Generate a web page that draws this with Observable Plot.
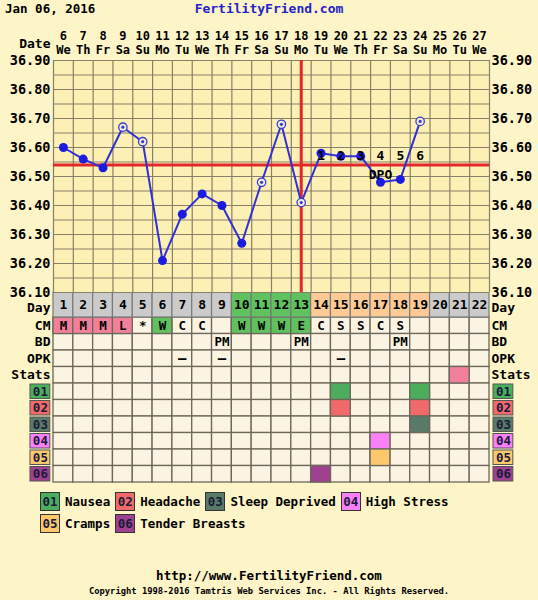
<!DOCTYPE html>
<html><head><meta charset="utf-8">
<script src="https://cdn.jsdelivr.net/npm/d3@7"></script>
<script src="https://cdn.jsdelivr.net/npm/@observablehq/plot@0.6"></script>
<style>
body{margin:0;background:#fdf4c8;}
#chart{position:relative;width:538px;height:600px;background:#fdf4c8;font-family:"DejaVu Sans Mono",monospace;font-weight:bold;overflow:hidden;color:#000}
#chart svg{overflow:visible}
</style></head><body><div id="chart"></div>
<script>
// ---------- data ----------
const headerDate = "Jan 06, 2016";
const siteName = "FertilityFriend.com";
const footerUrl = "http://www.FertilityFriend.com";
const copyright = "Copyright 1998-2016 Tamtris Web Services Inc. - All Rights Reserved.";

const cycleDays = [1,2,3,4,5,6,7,8,9,10,11,12,13,14,15,16,17,18,19,20,21,22];
const dateNumbers = [6,7,8,9,10,11,12,13,14,15,16,17,18,19,20,21,22,23,24,25,26,27];
const weekdays = ["We","Th","Fr","Sa","Su","Mo","Tu","We","Th","Fr","Sa","Su","Mo","Tu","We","Th","Fr","Sa","Su","Mo","Tu","We"];
const yTicks = [36.10,36.20,36.30,36.40,36.50,36.60,36.70,36.80,36.90];

const tempDays = [1,2,3,4,5,6,7,8,9,10,11,12,13,14,15,16,17,18,19];
const temps = [36.60,36.56,36.53,36.67,36.62,36.21,36.37,36.44,36.40,36.27,36.48,36.68,36.41,36.58,36.57,36.57,36.48,36.49,36.69];
const openMarker = [false,false,false,true,true,false,false,false,false,false,true,true,true,false,false,false,false,false,true];
const coverline = 36.54;
const ovulationDay = 13;
const dpoDays = [14,15,16,17,18,19];
const dpoLabels = ["1","2","3","4","5","6"];
const dpoTitleDay = 17;

const phases = ["pre","pre","pre","pre","pre","pre","pre","pre","pre","fertile","fertile","fertile","fertile","luteal","luteal","luteal","luteal","luteal","luteal","pre","pre","pre"];
const cmValues = ["M","M","M","L","*","W","C","C","","W","W","W","E","C","S","S","C","S","","","",""];
const bdValues = ["","","","","","","","","PM","","","","PM","","","","","PM","","","",""];
const opkValues = ["","","","","","","–","","–","","","","","","–","","","","","","",""];
const statsDays = [21];

const symptomCodes = ["01","02","03","04","05","06"];
const symptomNames = ["Nausea","Headache","Sleep Deprived","High Stress","Cramps","Tender Breasts"];
const symptomColors = ["#4cae5c","#f06a6a","#5a7a68","#fa80fa","#fdc86c","#9d4190"];
const symptomDays = [[15,19],[15,19],[19],[17],[17],[14]];

const rowNames = ["CM","BD","OPK","Stats","01","02","03","04","05","06"];

// ---------- styles ----------
const phaseColors = {pre:"#cbcbcb", fertile:"#5fc25f", luteal:"#fdca96"};
const cmColors = {M:"#f3809a", L:"#f3809a", W:"#5fc25f", E:"#5fc25f"};
const statsColor = "#f3809a";
const cellFill = "#fcf4e3", cellStroke = "#6d675a";
const gridColor = "#877f69";
const blue = "#3030d4", red = "#e3262a";

const chart = document.getElementById("chart");
function place(el, top, z) {
  el.style.position = "absolute"; el.style.left = "0px"; el.style.top = top + "px";
  if (z) el.style.zIndex = z;
  chart.appendChild(el);
}
const baseStyle = {background:"transparent", overflow:"visible", fontFamily:'"DejaVu Sans Mono", monospace', fontWeight:"bold", fontSize:"12.5px", color:"#000"};
const plotLeft = 53, plotRight = 49, W = 538;
const bw = (W - plotLeft - plotRight) / cycleDays.length;

// ---------- header ----------
const hd = document.createElement("div");
hd.textContent = headerDate;
hd.style.cssText = "position:absolute;left:5px;top:0px;font-size:12.5px;line-height:18px;";
chart.appendChild(hd);
const st = document.createElement("div");
st.textContent = siteName;
st.style.cssText = "position:absolute;left:0;top:0;width:538px;text-align:center;font-size:13px;line-height:18px;color:#2424c8;";
chart.appendChild(st);

// ---------- temperature plot ----------
const tempData = tempDays.map((d, i) => ({day: d, temp: temps[i], open: openMarker[i]}));
const boundaries = cycleDays.map(d => d - 0.5).concat([cycleDays[cycleDays.length - 1] + 0.5]);
const gridTemps = d3.ticks(yTicks[0], yTicks[yTicks.length - 1], 16);
const dpoData = dpoDays.map((d, i) => ({day: d, label: dpoLabels[i]}));

const tempPlot = Plot.plot({
  width: W, height: 266, marginTop: 34, marginBottom: 0, marginLeft: plotLeft, marginRight: plotRight,
  x: {type: "linear", domain: [0.5, cycleDays.length + 0.5], axis: null},
  y: {domain: [yTicks[0], yTicks[yTicks.length - 1]], axis: null},
  style: baseStyle,
  marks: [
    Plot.frame({fill: "#fdf0b4"}),
    Plot.ruleX(boundaries, {stroke: gridColor, strokeWidth: 1.2}),
    Plot.ruleY(gridTemps, {stroke: gridColor, strokeWidth: 1.2}),
    Plot.ruleY([coverline], {stroke: red, strokeWidth: 3}),
    Plot.ruleX([ovulationDay], {stroke: red, strokeWidth: 3}),
    Plot.line(tempData, {x: "day", y: "temp", stroke: blue, strokeWidth: 2}),
    Plot.dot(tempData.filter(d => !d.open), {x: "day", y: "temp", r: 4.5, fill: "#1c1ce0"}),
    Plot.dot(tempData.filter(d => d.open), {x: "day", y: "temp", r: 4.2, fill: "#f1eedd", stroke: "#3c3cd0", strokeWidth: 1.3}),
    Plot.dot(tempData.filter(d => d.open), {x: "day", y: "temp", r: 1.6, fill: "#3c3cd0"}),
    Plot.text(dpoData, {x: "day", y: () => coverline, text: "label", dy: -9, fontSize: 13}),
    Plot.text(["DPO"], {x: () => dpoTitleDay, y: () => coverline, text: d => d, dy: 10, fontSize: 13}),
    Plot.text(yTicks, {y: d => d, text: d => d.toFixed(2), frameAnchor: "left", textAnchor: "end", dx: -3, fontSize: 13.5}),
    Plot.text(yTicks, {y: d => d, text: d => d.toFixed(2), frameAnchor: "right", textAnchor: "start", dx: 2, fontSize: 13.5}),
    Plot.text(cycleDays, {x: d => d, text: (d, i) => String(dateNumbers[i]), frameAnchor: "top", lineAnchor: "middle", dy: -24, fontSize: 12}),
    Plot.text(cycleDays, {x: d => d, text: (d, i) => weekdays[i], frameAnchor: "top", lineAnchor: "middle", dy: -10, fontSize: 12}),
    Plot.text(["Date"], {text: d => d, frameAnchor: "top-left", lineAnchor: "middle", textAnchor: "end", dx: -3, dy: -16.5, fontSize: 13})
  ]
});
place(tempPlot, 26, 3);

// ---------- day row ----------
const xBand = {type: "band", domain: ["L", ...cycleDays, "R"], padding: 0, round: false, axis: null};
const dayData = cycleDays.map((d, i) => ({day: d, phase: phases[i]}));
const dayPlot = Plot.plot({
  width: W, height: 25, marginTop: 0, marginBottom: 0, marginLeft: plotLeft - bw, marginRight: plotRight - bw,
  x: xBand,
  style: baseStyle,
  marks: [
    Plot.cell(dayData, {x: "day", fill: d => phaseColors[d.phase], stroke: "#7a7a7a", strokeWidth: 1.2}),
    Plot.text(dayData, {x: "day", text: d => String(d.day), fontSize: 13}),
    Plot.text(["Day"], {x: () => "L", text: d => d, textAnchor: "end", dx: bw / 2 - 3, dy: 2.5, fontSize: 13}),
    Plot.text(["Day"], {x: () => "R", text: d => d, textAnchor: "start", dx: -bw / 2 + 2, dy: 2.5, fontSize: 13})
  ]
});
place(dayPlot, 292, 2);

// ---------- rows table ----------
const gridCells = rowNames.flatMap(r => cycleDays.map(d => ({row: r, day: d})));
const cmData = cycleDays.map((d, i) => ({day: d, v: cmValues[i]}));
const bdData = cycleDays.map((d, i) => ({day: d, v: bdValues[i]})).filter(d => d.v);
const opkData = cycleDays.map((d, i) => ({day: d, v: opkValues[i]})).filter(d => d.v);
const symptomCells = symptomCodes.flatMap((c, i) => symptomDays[i].map(d => ({row: c, day: d, color: symptomColors[i]})));
const labelRows = rowNames.filter(r => !symptomCodes.includes(r));
const codeData = symptomCodes.map((c, i) => ({code: c, color: symptomColors[i]}));

const rowsPlot = Plot.plot({
  width: W, height: 165, marginTop: 0, marginBottom: 0, marginLeft: plotLeft - bw, marginRight: plotRight - bw,
  x: xBand,
  y: {type: "band", domain: rowNames, padding: 0, round: false, axis: null},
  style: baseStyle,
  marks: [
    Plot.cell(gridCells, {x: "day", y: "row", fill: cellFill, stroke: cellStroke, strokeWidth: 1.3}),
    Plot.cell(cmData.filter(d => cmColors[d.v]), {x: "day", y: () => "CM", fill: d => cmColors[d.v], stroke: cellStroke, strokeWidth: 1.3}),
    Plot.cell(statsDays, {x: d => d, y: () => "Stats", fill: statsColor, stroke: cellStroke, strokeWidth: 1.3}),
    Plot.cell(symptomCells, {x: "day", y: "row", fill: "color", stroke: cellStroke, strokeWidth: 1.3}),
    Plot.text(cmData.filter(d => d.v), {x: "day", y: () => "CM", text: "v", fontSize: 12.5}),
    Plot.text(bdData, {x: "day", y: () => "BD", text: "v", fontSize: 12.5}),
    Plot.text(opkData, {x: "day", y: () => "OPK", text: "v", fontSize: 14}),
    Plot.text(labelRows, {x: () => "L", y: d => d, text: d => d, textAnchor: "end", dx: bw / 2 - 3, fontSize: 13}),
    Plot.text(labelRows, {x: () => "R", y: d => d, text: d => d, textAnchor: "start", dx: -bw / 2 + 2, fontSize: 13}),
    Plot.cell(codeData, {x: () => "L", y: "code", fill: "color", stroke: "#555", strokeWidth: 1, insetTop: 1, insetBottom: 1, dx: -3.2}),
    Plot.text(codeData, {x: () => "L", y: "code", text: "code", dx: -3.2, fill: "#1a1a3a", fontSize: 12.5}),
    Plot.cell(codeData, {x: () => "R", y: "code", fill: "color", stroke: "#555", strokeWidth: 1, insetTop: 1, insetBottom: 1, dx: 4}),
    Plot.text(codeData, {x: () => "R", y: "code", text: "code", dx: 4, fill: "#1a1a3a", fontSize: 12.5})
  ]
});
place(rowsPlot, 317, 1);

// ---------- legend ----------
const legend = document.createElement("div");
legend.style.cssText = "position:absolute;left:40px;top:492px;width:425px;display:flex;flex-wrap:wrap;column-gap:5px;row-gap:3px;font-size:12.5px;";
symptomCodes.forEach((c, i) => {
  const item = document.createElement("div");
  item.style.cssText = "display:flex;align-items:center;gap:5px;";
  const box = document.createElement("span");
  box.textContent = c;
  box.style.cssText = "display:inline-block;width:18px;height:17px;line-height:17px;text-align:center;border:1px solid #333;color:#1a1a3a;background:" + symptomColors[i];
  const name = document.createElement("span");
  name.textContent = symptomNames[i];
  item.appendChild(box); item.appendChild(name);
  legend.appendChild(item);
});
chart.appendChild(legend);

// ---------- footer ----------
const fu = document.createElement("div");
fu.textContent = footerUrl;
fu.style.cssText = "position:absolute;left:0;top:567px;width:538px;text-align:center;font-size:12.5px;line-height:18px;";
chart.appendChild(fu);
const fc = document.createElement("div");
fc.textContent = copyright;
fc.style.cssText = "position:absolute;left:0;top:585px;width:538px;text-align:center;font-size:8.8px;line-height:12px;";
chart.appendChild(fc);
</script>
</body></html>
